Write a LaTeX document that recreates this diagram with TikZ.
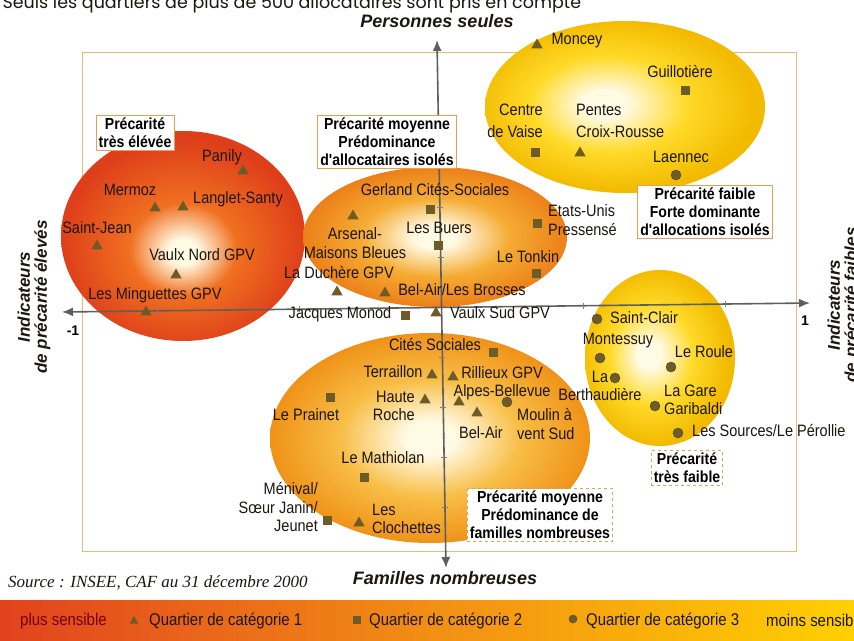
\documentclass[tikz,border=0pt]{standalone}
\usepackage{fontspec}
\setmainfont{Liberation Sans}
\newfontfamily\mapfont{Liberation Sans}[FakeStretch=0.88]
\newfontfamily\notefont{Poppins}
\newfontfamily\srcfont{Liberation Serif}
\usetikzlibrary{arrows.meta,shapes.geometric}

\definecolor{pale}{RGB}{255,250,228}
\definecolor{redout}{RGB}{222,62,26}
\definecolor{redmid}{RGB}{240,112,32}
\definecolor{orgout}{RGB}{236,128,24}
\definecolor{orgmid}{RGB}{245,172,52}
\definecolor{botout}{RGB}{240,146,24}
\definecolor{botmid}{RGB}{248,190,70}
\definecolor{yelout}{RGB}{242,186,0}
\definecolor{yelmid}{RGB}{255,218,40}
\definecolor{markc}{RGB}{110,92,40}
\definecolor{labc}{RGB}{28,22,15}
\definecolor{axisc}{RGB}{95,95,95}
\definecolor{framec}{RGB}{235,185,120}
\definecolor{boxc}{RGB}{232,160,80}
\definecolor{legred}{RGB}{226,66,30}
\definecolor{legorg}{RGB}{242,142,20}
\definecolor{legyel}{RGB}{255,208,0}

\pgfdeclareradialshading{redblob}{\pgfpoint{0bp}{-4bp}}{color(0bp)=(pale); color(3bp)=(pale); color(11bp)=(redmid); color(25bp)=(redout); color(50bp)=(redout)}
\pgfdeclareradialshading{orgblob}{\pgfpoint{0bp}{0bp}}{color(0bp)=(pale); color(4bp)=(pale); color(14bp)=(orgmid); color(25bp)=(orgout); color(50bp)=(orgout)}
\pgfdeclareradialshading{botblob}{\pgfpoint{0bp}{0bp}}{color(0bp)=(pale); color(4bp)=(pale); color(14bp)=(botmid); color(25bp)=(botout); color(50bp)=(botout)}
\pgfdeclareradialshading{yelblob}{\pgfpoint{-4bp}{1bp}}{color(0bp)=(pale); color(4bp)=(pale); color(14bp)=(yelmid); color(25bp)=(yelout); color(50bp)=(yelout)}

\tikzset{
  lbl/.style={font=\mapfont\fontsize{16.5}{18.5}\selectfont, text=labc, inner sep=0pt, align=center},
  boxa/.style={draw=boxc, line width=0.8pt, fill=white, text=black, inner sep=2.5pt, align=center,
    font=\mapfont\bfseries\fontsize{16}{18}\selectfont},
  axtitle/.style={font=\bfseries\itshape\fontsize{17}{17}\selectfont, text=labc, align=center},
  axis/.style={draw=axisc, line width=1.6pt, <->, >={Latex[length=11pt,width=9pt]}},
  tick/.style={draw=axisc!80, line width=0.8pt},
  cat1/.style={regular polygon, regular polygon sides=3, fill=markc, inner sep=0pt, minimum size=13pt},
  cat2/.style={rectangle, fill=markc, inner sep=0pt, minimum size=9pt},
  cat3/.style={circle, fill=markc, draw=markc!70!black, inner sep=0pt, minimum size=10pt},
  legtxt/.style={font=\mapfont\fontsize{17}{17}\selectfont, text=labc, anchor=west, inner sep=0pt}
}

\begin{document}
\begin{tikzpicture}[x=1pt, y=-1pt]
  \useasboundingbox (0,0) rectangle (854,640);

  % note at the top, cut by the page
  \node[anchor=base west, font=\notefont\fontsize{17.5}{17.5}\selectfont, text=labc] (note) at (-1,8)
    {Seuls les quartiers de plus de 500 allocataires sont pris en compte};

  % frame
  \draw[framec, line width=1pt] (82,52) rectangle (796,551);

  % groups
  \shade[shading=redblob] (183,236) ellipse (122 and 105);
  \shade[shading=orgblob] (435,237) ellipse (132 and 70);
  \shade[shading=yelblob] (625,107) ellipse (140 and 86);
  \shade[shading=yelblob] (660,358) ellipse (75 and 88);
  \shade[shading=botblob] (430,438) ellipse (160 and 105);

  % axis
  \coordinate (top) at (437,40);
  \coordinate (bottom) at (446,568);
  \coordinate (left) at (62,312);
  \coordinate (right) at (810,303);
  \draw[axis] (bottom) -- (top);
  \draw[axis] (left) -- (right);
  % ticks
  \foreach \y in {157,207,257,357,407,457,507}
    \draw[tick] ({437+9*(\y-40)/528-3},\y) -- ++(6,0);
  \foreach \x in {157,299,583,725}
    \draw[tick] (\x,{312-9*(\x-62)/748-3}) -- ++(0,6);
  \node[font=\bfseries\fontsize{14}{14}\selectfont] (minus one) at (73,331) {-1};
  \node[font=\bfseries\fontsize{14}{14}\selectfont] (plus one) at (805,321) {1};

  % axis titles
  \node[axtitle, font=\bfseries\itshape\fontsize{18}{18}\selectfont] (personnes) at (437,21) {Personnes seules};
  \node[axtitle, font=\bfseries\itshape\fontsize{18}{18}\selectfont] (familles) at (445,578) {Familles nombreuses};
  \node[axtitle, rotate=90] (indic left) at (34,297) {Indicateurs\\de précarité élevés};
  \node[axtitle, rotate=90] (indic right) at (844,305) {Indicateurs\\de précarité faibles};

  % quartiers de categorie 1
  \foreach \n/\x/\y in {panily/243/171, mermoz/155/208, langlet/183/207, saintjean/97/246,
      vaulxnord/176/275, minguettes/146/312, arsenal/353/216, duchere/337/292,
      belairbrosses/385/293, vaulxsud/436/313, moncey/537/45, pentes/580/153,
      terraillon/432/375, rillieux/453/377, hauteroche/425/400, alpes/459/402,
      belair/477/413, clochettes/359/523}
    \node[cat1] (\n) at (\x,\y) {};
  % quartiers de categorie 2
  \foreach \n/\x/\y in {gerland/430/209, buers/438/245, etatsunis/537/223, tonkin/536/273,
      monod/405/315, guillotiere/685/90, vaise/535/152, citesoc/493/352,
      prainet/330/397, mathiolan/364/477, menival/327/520}
    \node[cat2] (\n) at (\x,\y) {};
  % quartiers de categorie 3
  \foreach \n/\x/\y in {laennec/676/175, saintclair/597/319, montessuy/600/358,
      berthaudiere/615/378, roule/671/367, garibaldi/655/406, sources/678/433, moulin/507/402}
    \node[cat3] (\n) at (\x,\y) {};

  % names
  \node[lbl] (panily-t) at (222,157) {Panily};
  \node[lbl] (mermoz-t) at (130,190) {Mermoz};
  \node[lbl] (langlet-t) at (238,199) {Langlet-Santy};
  \node[lbl] (saintjean-t) at (97,228) {Saint-Jean};
  \node[lbl] (vaulxnord-t) at (202,255) {Vaulx Nord GPV};
  \node[lbl] (minguettes-t) at (155,295) {Les Minguettes GPV};
  \node[lbl] (gerland-t) at (435,190) {Gerland Cités-Sociales};
  \node[lbl] (arsenal-t) at (355,243) {Arsenal-\\Maisons Bleues};
  \node[lbl] (buers-t) at (439,228) {Les Buers};
  \node[lbl] (duchere-t) at (339,273) {La Duchère GPV};
  \node[lbl] (belairbrosses-t) at (462,290) {Bel-Air/Les Brosses};
  \node[lbl, align=left, anchor=west] (etatsunis-t) at (548,220) {Etats-Unis\\Pressensé};
  \node[lbl] (tonkin-t) at (528,257) {Le Tonkin};
  \node[lbl] (monod-t) at (340,314) {Jacques Monod};
  \node[lbl] (vaulxsud-t) at (500,313) {Vaulx Sud GPV};
  \node[lbl] (moncey-t) at (577,41) {Moncey};
  \node[lbl] (guillotiere-t) at (680,72) {Guillotière};
  \node[lbl, align=right, anchor=east] (vaise-t) at (543,121) {Centre\\[4pt]de Vaise};
  \node[lbl, align=left, anchor=west] (pentes-t) at (576,121) {Pentes\\[4pt]Croix-Rousse};
  \node[lbl] (laennec-t) at (681,157) {Laennec};
  \node[lbl, anchor=west] (saintclair-t) at (610,318) {Saint-Clair};
  \node[lbl] (montessuy-t) at (618,341) {Montessuy};
  \node[lbl] (berthaudiere-t) at (600,386) {La\\Berthaudière};
  \node[lbl] (roule-t) at (704,352) {Le Roule};
  \node[lbl, align=left, anchor=west] (garibaldi-t) at (664,400) {La Gare\\Garibaldi};
  \node[lbl, anchor=west] (sources-t) at (692,430) {Les Sources/Le Pérollie};
  \node[lbl] (citesoc-t) at (435,345) {Cités Sociales};
  \node[lbl] (terraillon-t) at (393,372) {Terraillon};
  \node[lbl] (rillieux-t) at (502,373) {Rillieux GPV};
  \node[lbl, align=right, anchor=east] (hauteroche-t) at (415,406) {Haute\\Roche};
  \node[lbl] (alpes-t) at (502,392) {Alpes-Bellevue};
  \node[lbl, align=left, anchor=west] (moulin-t) at (517,424) {Moulin à\\vent Sud};
  \node[lbl] (belair-t) at (481,433) {Bel-Air};
  \node[lbl] (prainet-t) at (306,415) {Le Prainet};
  \node[lbl] (mathiolan-t) at (383,458) {Le Mathiolan};
  \node[lbl, align=left, anchor=west] (clochettes-t) at (372,519) {Les\\Clochettes};
  \node[lbl, align=right, anchor=east] (menival-t) at (318,507) {Ménival/\\Sœur Janin/\\Jeunet};

  % boxes
  \node[boxa] (box-eleve) at (135,133) {Précarité\\très élévée};
  \node[boxa] (box-isoles) at (387,142) {Précarité moyenne\\Prédominance\\d'allocataires isolés};
  \node[boxa] (box-faible) at (705,212) {Précarité faible\\Forte dominante\\d'allocations isolés};
  \node[boxa, dashed] (box-tresfaible) at (687,468) {Précarité\\très faible};
  \node[boxa, dashed] (box-familles) at (540,515) {Précarité moyenne\\Prédominance de\\familles nombreuses};

  % source
  \node[font=\srcfont\itshape\fontsize{17}{17}\selectfont, text=labc, anchor=west, inner sep=0pt] (source)
    at (8,583) {Source : INSEE, CAF au 31 décembre 2000};

  % legend
  \shade[left color=legred, right color=legyel, middle color=legorg] (0,600) rectangle (854,640);
  \node[legtxt, text=red!45!black] (leg-plus) at (20,621) {plus sensible};
  \node[cat1, minimum size=10pt] (leg-cat1) at (134,621) {};
  \node[legtxt] (leg-cat1-t) at (149,621) {Quartier de catégorie 1};
  \node[cat2, minimum size=8pt] (leg-cat2) at (357,620) {};
  \node[legtxt] (leg-cat2-t) at (369,621) {Quartier de catégorie 2};
  \node[cat3, minimum size=8pt] (leg-cat3) at (573,619) {};
  \node[legtxt] (leg-cat3-t) at (586,621) {Quartier de catégorie 3};
  \node[legtxt] (leg-moins) at (766,620) {moins sensible};
\end{tikzpicture}
\end{document}
